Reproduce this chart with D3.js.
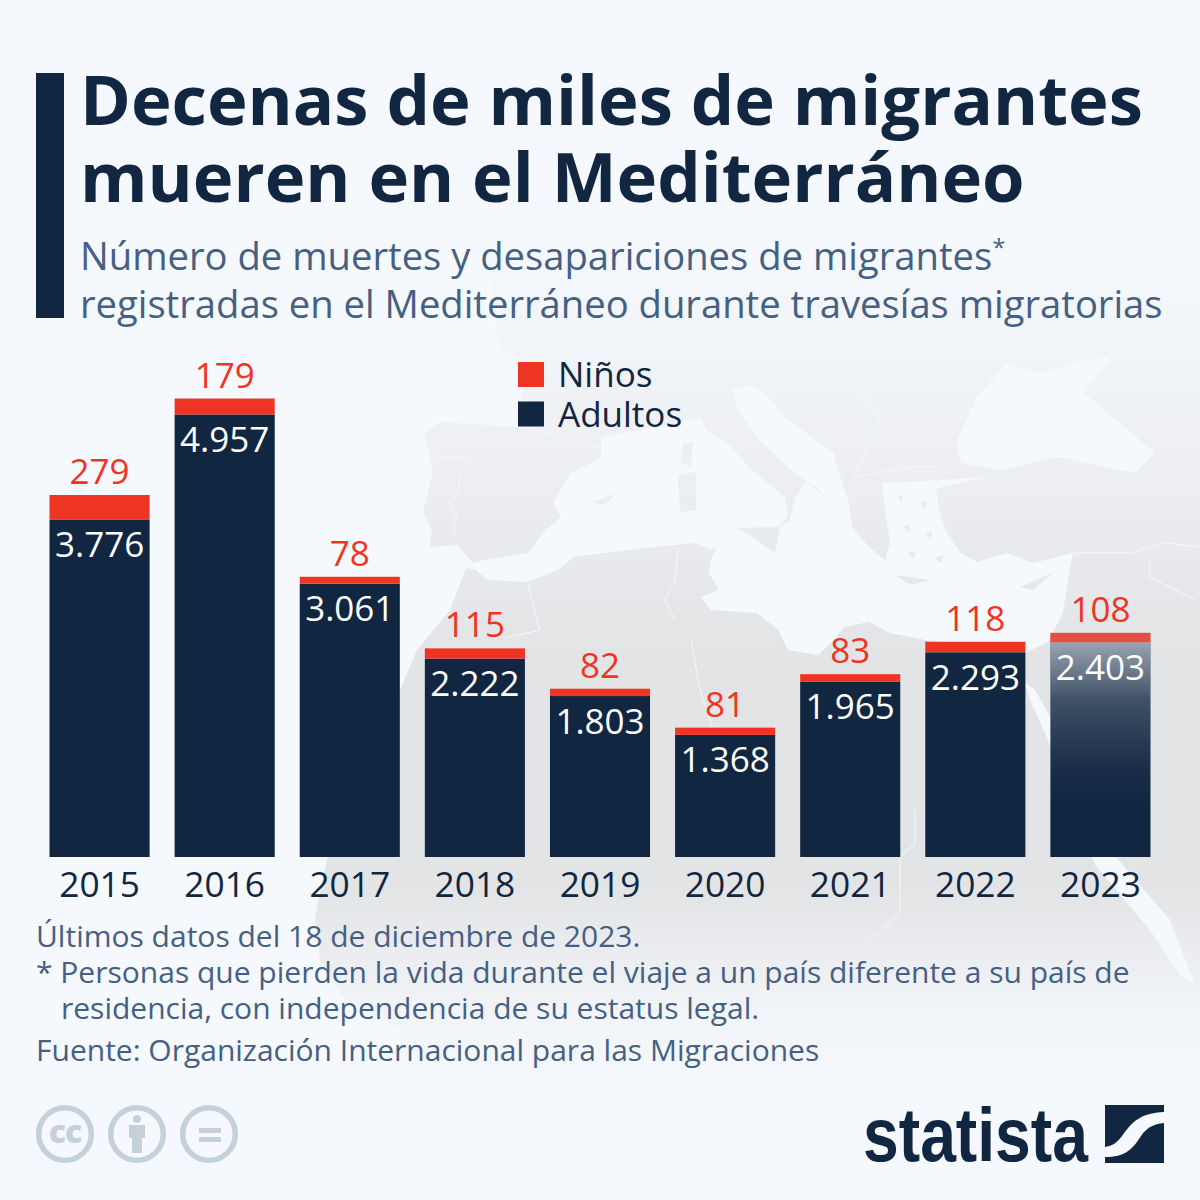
<!DOCTYPE html>
<html>
<head>
<meta charset="utf-8">
<script src="https://cdn.jsdelivr.net/npm/d3@7"></script>
<style>
  html, body { margin: 0; padding: 0; background: #f5f8fc; }
  svg { display: block; font-family: "Open Sans", sans-serif; }
</style>
</head>
<body>
<svg id="chart" width="1200" height="1200"></svg>
<script>
const years = ['2015', '2016', '2017', '2018', '2019', '2020', '2021', '2022', '2023']
const adults = [3776, 4957, 3061, 2222, 1803, 1368, 1965, 2293, 2403]
const children = [279, 179, 78, 115, 82, 81, 83, 118, 108]
const seriesNames = ['Niños', 'Adultos']

const navy = '#112641'
const red = '#ee3524'
const slate = '#456083'
const paper = '#f5f8fc'

const fmt = n => d3.format(',')(n).replace(',', '.')

const svg = d3.select('#chart')
const defs = svg.append('defs')

const mapFade = defs.append('linearGradient').attr('id', 'map-fade')
  .attr('gradientUnits', 'userSpaceOnUse')
  .attr('x1', 0).attr('x2', 0).attr('y1', 200).attr('y2', 1100)
;[[0.04, 0], [0.167, 0.2], [0.333, 0.55], [0.5, 1], [0.767, 1], [0.889, 0.25], [0.99, 0]].forEach(s => {
  mapFade.append('stop').attr('offset', s[0]).attr('stop-color', '#e3e4e6').attr('stop-opacity', s[1])
})

const barFade = defs.append('linearGradient').attr('id', 'bar-fade')
  .attr('x1', 0).attr('x2', 0).attr('y1', 0).attr('y2', 1)
;[[0, 0.6], [0.27, 0.2], [0.6, 0.03], [0.75, 0]].forEach(s => {
  barFade.append('stop').attr('offset', s[0]).attr('stop-color', paper).attr('stop-opacity', s[1])
})

// background map, rough outline of the land around the Mediterranean
const land = 'M466,568 L476,570 L487,580 L528,582 L558,570 L573,557 L645,548 L696,543 L711,550 L716,547 L711,560 L709,573 L719,590 L701,597 L711,610 L757,613 L778,630 L788,650 L818,655 L834,640 L844,627 L869,622 L890,633 L925,640 L1027,652 L1048,642 L1063,613 L1068,580 L1073,553 L1033,563 L1007,553 L977,562 L961,553 L948,535 L941,517 L936,490 L941,487 L987,477 L941,480 L882,483 L885,510 L890,543 L885,560 L869,547 L852,527 L849,503 L836,463 L834,453 L788,420 L762,390 L752,385 L732,388 L737,410 L762,443 L788,467 L823,495 L816,487 L806,483 L795,497 L790,520 L780,527 L788,515 L785,497 L752,470 L727,443 L706,430 L701,418 L640,430 L601,437 L601,458 L571,473 L553,503 L561,517 L543,533 L528,553 L484,560 L473,563 L457,545 L430,547 L432,530 L423,513 L433,473 L425,433 L440,422 L533,428 L520,400 L530,370 L500,345 L490,300 L500,220 L1200,220 L1200,1100 L400,1100 L400,1030 L345,1000 L320,960 L315,917 L327,860 L360,780 L400,690 L417,650 L450,610 Z'
const blackSea = 'M956,443 L977,397 L1007,363 L1038,373 L1114,353 L1084,393 L1155,453 L1135,473 L1058,457 L1002,470 L961,463 Z'
const redSea = 'M1025,683 L1035,690 L1052,720 L1110,850 L1170,920 L1195,985 L1180,975 L1150,930 L1095,865 L1048,740 L1030,700 Z'
const islands = [
  'M683,443 L693,442 L691,467 L681,463 Z',
  'M678,475 L696,472 L696,510 L680,512 Z',
  'M737,528 L780,527 L775,553 L752,537 Z',
  'M895,575 L931,580 L910,585 Z',
  'M1020,587 L1053,573 L1033,590 Z',
  'M593,502 L617,493 L604,505 Z',
  // Aegean islands
  'M897,497 L903,494 L902,503 Z',
  'M920,503 L927,500 L925,510 Z',
  'M903,527 L909,524 L910,532 Z',
  'M925,533 L932,530 L931,540 Z',
  'M908,553 L916,551 L914,559 Z',
  'M934,558 L944,555 L941,563 Z'
]
const borders = [
  'M432,455 L443,458 L463,458 L468,465 L460,473 L458,493 L450,502 L457,517 L453,527 L457,530 L450,540',
  'M533,428 L579,445 L601,448',
  'M528,583 L535,613 L540,630 L505,638',
  'M678,550 L675,580 L665,600 L675,620',
  'M691,640 L700,690 L720,750',
  'M900,857 L900,913 L860,950',
  'M915,810 L915,843 L900,857',
  'M1073,553 L1130,553 L1165,543 L1200,547',
  'M1150,557 L1150,577 L1195,600',
  'M854,477 L910,467 L936,467',
  'M850,370 L880,420 L854,477'
]
const mapG = svg.append('g')
mapG.append('path')
  .attr('d', [land, blackSea, redSea].join(' '))
  .attr('fill', 'url(#map-fade)')
  .attr('fill-rule', 'evenodd')
mapG.selectAll('path.island').data(islands).join('path')
  .attr('class', 'island')
  .attr('d', d => d)
  .attr('fill', 'url(#map-fade)')
mapG.selectAll('path.border').data(borders).join('path')
  .attr('class', 'border')
  .attr('d', d => d)
  .attr('fill', 'none')
  .attr('stroke', paper)
  .attr('stroke-width', 1)

// title block
svg.append('rect').attr('x', 36).attr('y', 73).attr('width', 28).attr('height', 245).attr('fill', navy)

const titleLines = ['Decenas de miles de migrantes', 'mueren en el Mediterráneo']
svg.append('g').selectAll('text').data(titleLines).join('text')
  .attr('x', 80)
  .attr('y', (d, i) => 125 + i * 77)
  .attr('font-size', 68.8)
  .attr('font-weight', 700)
  .attr('fill', navy)
  .text(d => d)

const subtitle = svg.append('g').attr('font-size', 38.2).attr('fill', slate)
const sub1 = subtitle.append('text').attr('x', 80).attr('y', 269.5)
sub1.append('tspan').text('Número de muertes y desapariciones de migrantes')
sub1.append('tspan').attr('font-size', 24).attr('dy', -14).text('*')
subtitle.append('text').attr('x', 80).attr('y', 318)
  .text('registradas en el Mediterráneo durante travesías migratorias')

// bars
const x = d3.scaleBand().domain(years).range([37, 1163]).paddingInner(0.2).paddingOuter(0.1)
const y = d3.scaleLinear().domain([0, 5136]).range([857, 398.5])

const rows = years.map((year, i) => ({ year, adult: adults[i], child: children[i] }))
const stacked = d3.stack().keys(['adult', 'child'])(rows)

const bars = svg.append('g')
bars.selectAll('rect.adult').data(stacked[0]).join('rect')
  .attr('class', 'adult')
  .attr('x', d => x(d.data.year))
  .attr('width', x.bandwidth())
  .attr('y', d => y(d[1]))
  .attr('height', d => y(d[0]) - y(d[1]))
  .attr('fill', navy)
bars.selectAll('rect.child').data(stacked[1]).join('rect')
  .attr('class', 'child')
  .attr('x', d => x(d.data.year))
  .attr('width', x.bandwidth())
  .attr('y', d => y(d[1]))
  .attr('height', d => y(d[0]) - y(d[1]))
  .attr('fill', red)

// the last bar fades out at the top, only for the current year
const last = rows[rows.length - 1]
svg.append('rect')
  .attr('x', x(last.year))
  .attr('width', x.bandwidth())
  .attr('y', y(last.adult))
  .attr('height', y(0) - y(last.adult))
  .attr('fill', 'url(#bar-fade)')
svg.append('rect')
  .attr('x', x(last.year))
  .attr('width', x.bandwidth())
  .attr('y', y(last.adult + last.child))
  .attr('height', y(last.adult) - y(last.adult + last.child))
  .attr('fill', '#b0b8d0')
  .attr('opacity', 0.2)

// value labels
const labels = svg.append('g').attr('text-anchor', 'middle').attr('font-size', 35)
labels.selectAll('text.adult').data(rows).join('text')
  .attr('class', 'adult')
  .attr('x', d => x(d.year) + x.bandwidth() / 2)
  .attr('y', d => y(d.adult) + 37.5)
  .attr('fill', '#fff')
  .text(d => fmt(d.adult))
labels.selectAll('text.child').data(rows).join('text')
  .attr('class', 'child')
  .attr('x', d => x(d.year) + x.bandwidth() / 2)
  .attr('y', d => y(d.adult + d.child) - 11)
  .attr('fill', red)
  .text(d => d.child)

// x axis
const xAxis = d3.axisBottom(x).tickSize(0).tickPadding(15)
const xAxisG = svg.append('g').attr('transform', `translate(0,${y(0)})`).call(xAxis)
xAxisG.select('.domain').remove()
xAxisG.selectAll('text')
  .attr('font-family', '"Open Sans", sans-serif')
  .attr('font-size', 35.3)
  .attr('fill', navy)

// legend
const legend = svg.append('g').selectAll('g').data(seriesNames).join('g')
  .attr('transform', (d, i) => `translate(518,${362 + i * 39.5})`)
legend.append('rect')
  .attr('width', 26).attr('height', 25)
  .attr('fill', (d, i) => i === 0 ? red : navy)
legend.append('text')
  .attr('x', 40).attr('y', 25)
  .attr('font-size', 35)
  .attr('fill', navy)
  .text(d => d)

// notes
const notes = [
  { x: 36, y: 947, text: 'Últimos datos del 18 de diciembre de 2023.' },
  { x: 36, y: 983, text: '* Personas que pierden la vida durante el viaje a un país diferente a su país de' },
  { x: 61, y: 1019, text: 'residencia, con independencia de su estatus legal.' },
  { x: 36, y: 1061, text: 'Fuente: Organización Internacional para las Migraciones' }
]
svg.append('g').selectAll('text').data(notes).join('text')
  .attr('x', d => d.x)
  .attr('y', d => d.y)
  .attr('font-size', 30)
  .attr('fill', slate)
  .text(d => d.text)

// licence icons
const iconColor = '#c5d1d9'
const icons = svg.append('g').attr('transform', 'translate(0,1134)')
icons.selectAll('circle').data([65, 137, 209]).join('circle')
  .attr('cx', d => d).attr('r', 26.3)
  .attr('fill', 'none').attr('stroke', iconColor).attr('stroke-width', 5.5)
icons.append('text').attr('x', 65).attr('y', 9).attr('text-anchor', 'middle')
  .attr('font-size', 32).attr('font-weight', 800).attr('letter-spacing', -1)
  .attr('fill', iconColor).text('cc')
icons.append('circle').attr('cx', 137).attr('cy', -15).attr('r', 4).attr('fill', iconColor)
icons.append('path').attr('d', 'M129,-9 H145 V4 H142 V19 H132 V4 H129 Z').attr('fill', iconColor)
icons.append('rect').attr('x', 199).attr('y', -6).attr('width', 22).attr('height', 5).attr('fill', iconColor)
icons.append('rect').attr('x', 199).attr('y', 3).attr('width', 22).attr('height', 5).attr('fill', iconColor)

// statista logo
svg.append('text')
  .attr('x', 863).attr('y', 1161)
  .attr('font-family', '"Liberation Sans", sans-serif')
  .attr('font-size', 76).attr('font-weight', 700)
  .attr('fill', navy)
  .attr('textLength', 225).attr('lengthAdjust', 'spacingAndGlyphs')
  .text('statista')
svg.append('path')
  .attr('d', 'M1105,1105 H1164 V1112 C1140,1113 1132,1122 1122,1136 C1116,1144 1111,1146 1105,1147 Z')
  .attr('fill', navy)
svg.append('path')
  .attr('d', 'M1164,1123 V1163 H1105 V1157 C1125,1157 1132,1150 1141,1136 C1148,1126 1155,1124 1164,1123 Z')
  .attr('fill', navy)
</script>
</body>
</html>
